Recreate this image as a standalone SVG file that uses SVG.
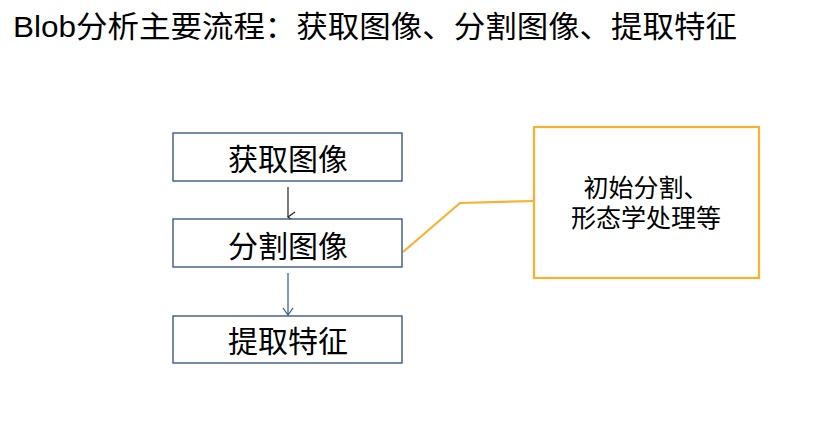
<svg xmlns="http://www.w3.org/2000/svg" width="830" height="435" viewBox="0 0 830 435">
<defs>
<style>
.box{fill:#fff;stroke:#2F4A7F;stroke-width:1.3}
.obox{fill:#fff;stroke:#FBB12F;stroke-width:2.2}
.t{font-family:"Liberation Sans","Noto Sans CJK SC",sans-serif;fill:#000}
.bt{font-size:30px;text-anchor:middle}
.ot{font-size:25px;text-anchor:middle}
</style>
<marker id="ak" markerWidth="12" markerHeight="10" refX="6" refY="8" orient="auto-start-reverse" markerUnits="userSpaceOnUse" viewBox="0 0 12 10">
<path d="M1,1 L6,8 L11,1" fill="none" stroke="#222" stroke-width="1.2"/>
</marker>
<marker id="ab" markerWidth="12" markerHeight="10" refX="6" refY="8" markerUnits="userSpaceOnUse" viewBox="0 0 12 10">
<path d="M1,1 L6,8 L11,1" fill="none" stroke="#2F5597" stroke-width="1.2"/>
</marker>
</defs>
<rect width="830" height="435" fill="#fff"/>
<text class="t" x="13" y="37" font-size="30" textLength="724" lengthAdjust="spacingAndGlyphs">Blob分析主要流程：获取图像、分割图像、提取特征</text>
<g id="connectors">
<line x1="288" y1="187" x2="288" y2="217" stroke="#222" stroke-width="1.2" marker-end="url(#ak)"/>
<line x1="288" y1="273" x2="288" y2="315" stroke="#2F5597" stroke-width="1.2" marker-end="url(#ab)"/>
<polyline points="403,252 460,203 534,201" fill="none" stroke="#FBB12F" stroke-width="2.2"/>
</g>
<g id="node-acquire">
<rect class="box" x="173" y="133" width="229" height="48"/>
<text class="t bt" x="288" y="170">获取图像</text>
</g>
<g id="node-segment">
<rect class="box" x="173" y="219" width="229" height="48"/>
<text class="t bt" x="288" y="257">分割图像</text>
</g>
<g id="node-extract">
<rect class="box" x="173" y="316" width="229" height="47"/>
<text class="t bt" x="288" y="352">提取特征</text>
</g>
<g id="node-note">
<rect class="obox" x="534" y="127" width="225" height="151"/>
<text class="t ot" x="646" y="197">初始分割、</text>
<text class="t ot" x="646" y="227">形态学处理等</text>
</g>
</svg>
